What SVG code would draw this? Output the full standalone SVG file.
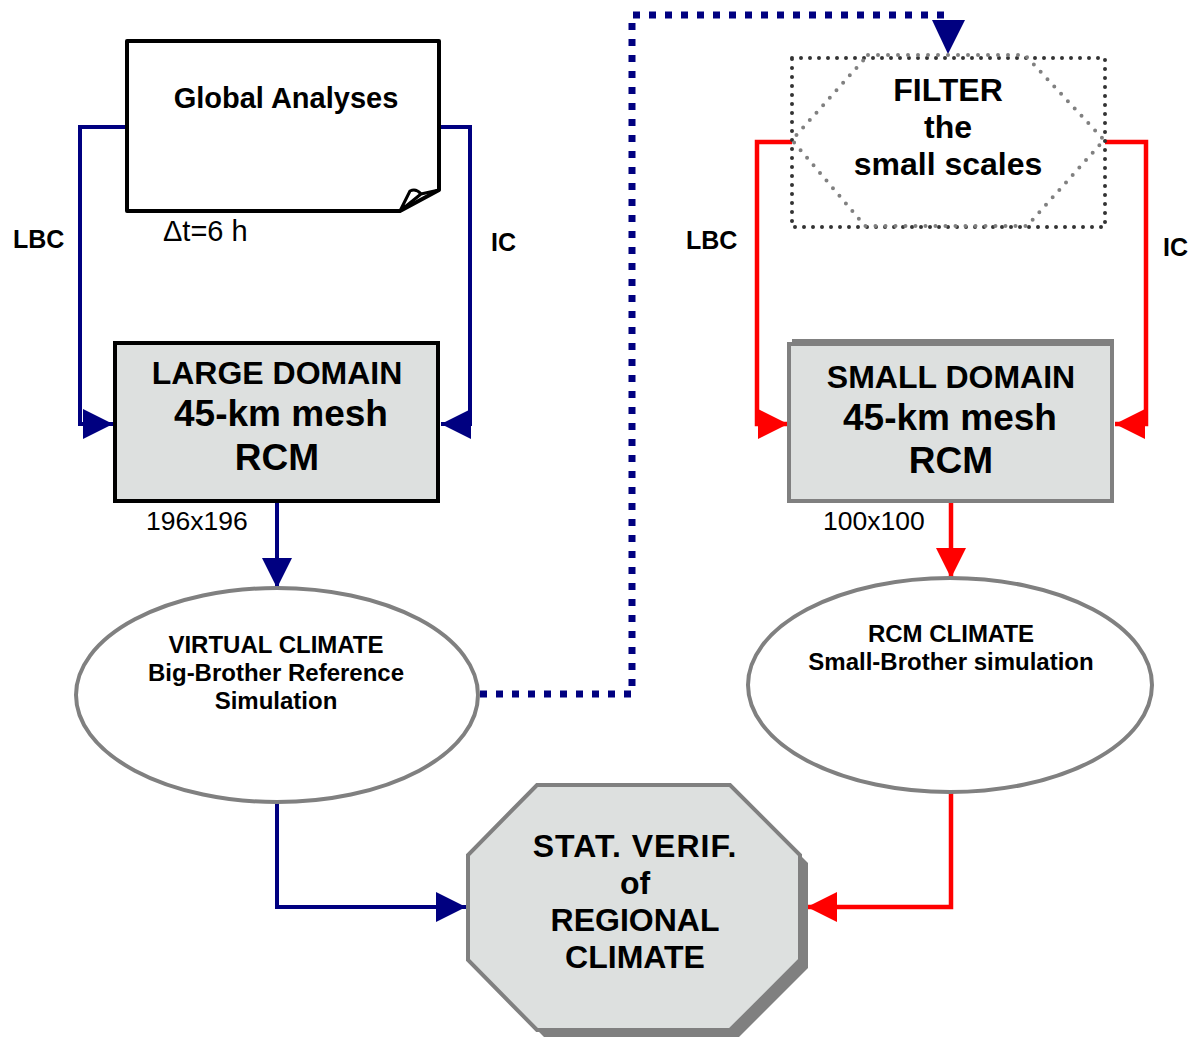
<svg xmlns="http://www.w3.org/2000/svg" width="1194" height="1037" viewBox="0 0 1194 1037">
  <style>
    text { font-family: "Liberation Sans", Arial, sans-serif; fill: #000; }
    .b { font-weight: bold; }
    .c { text-anchor: middle; }
    .box { fill: #dde0df; }
    .blue { fill: none; stroke: #000080; stroke-width: 4; }
    .red { fill: none; stroke: #ff0000; stroke-width: 4.5; }
    .ell { fill: #fff; stroke: #808080; stroke-width: 4; }
  </style>
  <defs>
    <marker id="ahBlue" markerUnits="userSpaceOnUse" markerWidth="32" markerHeight="32" refX="30" refY="16" orient="auto">
      <path d="M0,1 L30,16 L0,31 Z" fill="#000080"/>
    </marker>
    <marker id="ahRed" markerUnits="userSpaceOnUse" markerWidth="32" markerHeight="32" refX="30" refY="16" orient="auto">
      <path d="M0,1 L30,16 L0,31 Z" fill="#ff0000"/>
    </marker>
  </defs>

  <rect width="1194" height="1037" fill="#fff"/>

  <!-- connectors -->
  <g id="connectors">
    <path class="blue" d="M127,127 H80 V424 H113" marker-end="url(#ahBlue)"/>
    <path class="blue" d="M439,127 H470 V424 H441" marker-end="url(#ahBlue)"/>
    <path class="blue" d="M277,502 V588" marker-end="url(#ahBlue)"/>
    <path class="blue" d="M277,803 V907 H466" marker-end="url(#ahBlue)"/>
    <path fill="none" stroke="#000080" stroke-width="7" stroke-dasharray="7 9" d="M480,694 H632 V15 H944"/>
    <polygon points="932,20 965,20 948,54" fill="#000080"/>
    <path class="red" d="M792,142 H757 V424 H788" marker-end="url(#ahRed)"/>
    <path class="red" d="M1105,142 H1146 V424 H1115" marker-end="url(#ahRed)"/>
    <path class="red" d="M951,501 V578" marker-end="url(#ahRed)"/>
    <path class="red" d="M951,793 V907 H807" marker-end="url(#ahRed)"/>
  </g>

  <!-- global analyses document -->
  <g id="global-analyses">
    <path d="M127,41 H439 V190 L400,211 H127 Z" fill="#fff" stroke="#000" stroke-width="4" stroke-linejoin="round"/>
    <path d="M400,211 L410,191 Q416,188 421,194 L439,190 M400,211 L421,194" fill="none" stroke="#000" stroke-width="3" stroke-linejoin="round"/>
    <text class="b c" x="286" y="108" font-size="29">Global Analyses</text>
    <text x="163" y="241" font-size="29">Δt=6 h</text>
  </g>

  <g id="lbc-left"><text class="b" x="13" y="248" font-size="25">LBC</text></g>
  <g id="ic-left"><text class="b" x="491" y="251" font-size="25">IC</text></g>

  <!-- large domain model -->
  <g id="large-domain">
    <rect class="box" x="115" y="343" width="323" height="158" stroke="#000" stroke-width="4"/>
    <text class="b c" x="277" y="384" font-size="32">LARGE DOMAIN</text>
    <text class="b c" x="281" y="426" font-size="37">45-km mesh</text>
    <text class="b c" x="277" y="470" font-size="37">RCM</text>
    <text x="146" y="530" font-size="26.5">196x196</text>
  </g>

  <!-- big-brother simulation -->
  <g id="virtual-climate">
    <ellipse class="ell" cx="277" cy="695" rx="201" ry="107"/>
    <text class="b c" x="276" y="653" font-size="24">VIRTUAL CLIMATE</text>
    <text class="b c" x="276" y="681" font-size="24">Big-Brother Reference</text>
    <text class="b c" x="276" y="709" font-size="24">Simulation</text>
  </g>

  <!-- filter -->
  <g id="filter">
    <rect x="792" y="58" width="313" height="169" fill="#fff" stroke="#333" stroke-width="4" stroke-dasharray="0 9" stroke-linecap="round"/>
    <polygon points="868,55 1025,55 1104,140 1027,226 865,226 792,140" fill="none" stroke="#808080" stroke-width="4" stroke-dasharray="0 10" stroke-linecap="round"/>
    <text class="b c" x="948" y="101" font-size="32">FILTER</text>
    <text class="b c" x="948" y="138" font-size="32">the</text>
    <text class="b c" x="948" y="175" font-size="32">small scales</text>
  </g>

  <g id="lbc-right"><text class="b" x="686" y="249" font-size="25">LBC</text></g>
  <g id="ic-right"><text class="b" x="1163" y="256" font-size="25">IC</text></g>

  <!-- small domain model -->
  <g id="small-domain">
    <rect x="792" y="339" width="322" height="158" fill="#808080"/>
    <rect class="box" x="789" y="344" width="323" height="157" stroke="#808080" stroke-width="4"/>
    <text class="b c" x="951" y="388" font-size="32">SMALL DOMAIN</text>
    <text class="b c" x="950" y="430" font-size="37">45-km mesh</text>
    <text class="b c" x="951" y="473" font-size="37">RCM</text>
    <text x="823" y="530" font-size="26.5">100x100</text>
  </g>

  <!-- small-brother simulation -->
  <g id="rcm-climate">
    <ellipse class="ell" cx="950" cy="685" rx="202" ry="107"/>
    <text class="b c" x="951" y="642" font-size="24">RCM CLIMATE</text>
    <text class="b c" x="951" y="670" font-size="24">Small-Brother simulation</text>
  </g>

  <!-- statistical verification -->
  <g id="stat-verif">
    <polygon points="545,793 738,793 808,863 808,968 738,1038 545,1038 476,968 476,863" fill="#808080"/>
    <polygon class="box" points="537,785 730,785 800,855 800,960 730,1030 537,1030 468,960 468,855" stroke="#808080" stroke-width="4"/>
    <text class="b c" x="635" y="857" font-size="32" letter-spacing="1">STAT. VERIF.</text>
    <text class="b c" x="635" y="894" font-size="32">of</text>
    <text class="b c" x="635" y="931" font-size="32">REGIONAL</text>
    <text class="b c" x="635" y="968" font-size="32">CLIMATE</text>
  </g>
</svg>
